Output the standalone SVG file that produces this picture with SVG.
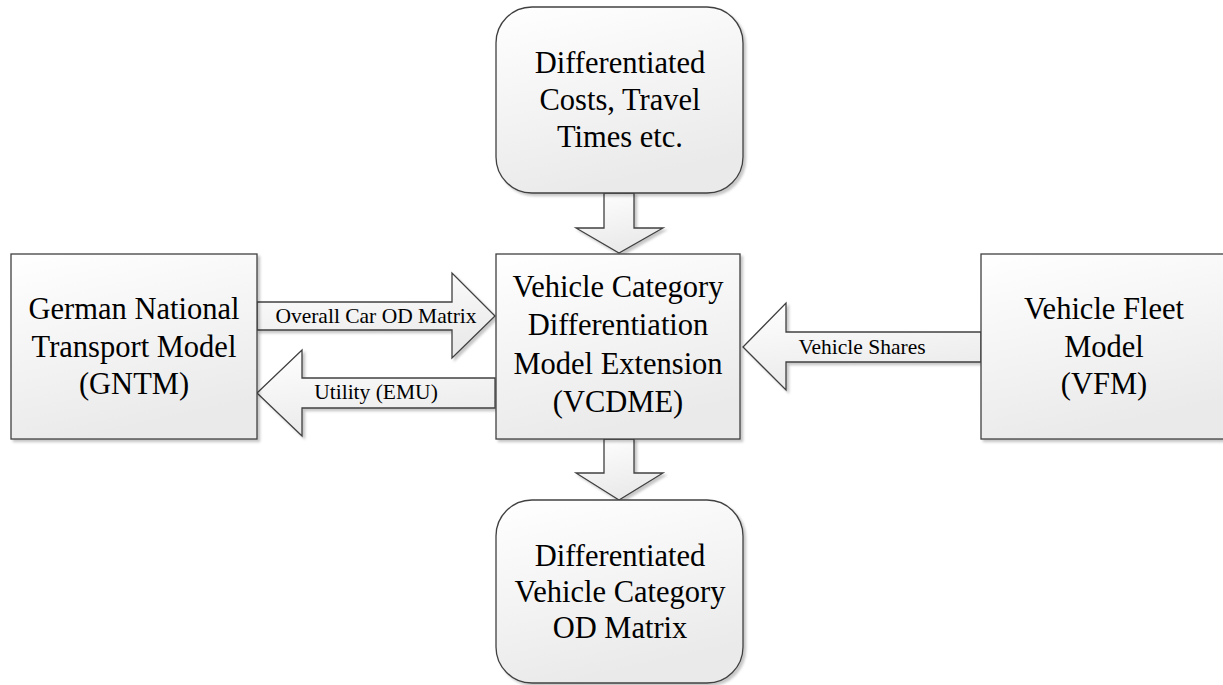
<svg xmlns="http://www.w3.org/2000/svg" width="1223" height="685" viewBox="0 0 1223 685">
<defs>
<linearGradient id="g" x1="0" y1="0" x2="0.3" y2="1">
<stop offset="0" stop-color="#ffffff"/>
<stop offset="1" stop-color="#eaeaea"/>
</linearGradient>
<filter id="sh" x="-10%" y="-10%" width="130%" height="130%">
<feDropShadow dx="2.5" dy="2.5" stdDeviation="1" flood-color="#000" flood-opacity="0.22"/>
</filter>
<style>
.box{fill:url(#g);stroke:#404040;stroke-width:1.3;filter:url(#sh)}
.arr{fill:url(#g);stroke:#404040;stroke-width:1.3;filter:url(#sh)}
.big{font-family:"Liberation Serif","Times New Roman",serif;font-size:30.5px;fill:#000;text-anchor:middle}
.small{font-family:"Liberation Serif","Times New Roman",serif;font-size:21.5px;fill:#000;text-anchor:middle}
</style>
</defs>
<rect width="1223" height="685" fill="#fff"/>

<g id="connectors">
<g id="arrow-top">
<polygon class="arr" points="604,193 634,193 634,228 663,228 619,253 576,228 604,228"/>
</g>
<g id="arrow-bottom">
<polygon class="arr" points="604,439 634,439 634,473 663,473 619,500 576,473 604,473"/>
</g>
<g id="arrow-overall">
<polygon class="arr" points="257,302 452,302 452,273 495,316 452,358 452,330 257,330"/>
<text class="small" x="376" y="323">Overall Car OD Matrix</text>
</g>
<g id="arrow-utility">
<polygon class="arr" points="495,378 302,378 302,350 257,393 302,436 302,408 495,408"/>
<text class="small" x="376" y="399">Utility (EMU)</text>
</g>
<g id="arrow-shares">
<polygon class="arr" points="981,332 786,332 786,303 743,347 786,390 786,362 981,362"/>
<text class="small" x="862" y="354">Vehicle Shares</text>
</g>
</g>

<g id="node-costs">
<rect class="box" x="496" y="7" width="247" height="186" rx="36" ry="36"/>
<text class="big" x="620" y="73">Differentiated</text>
<text class="big" x="620" y="110">Costs, Travel</text>
<text class="big" x="620" y="147">Times etc.</text>
</g>

<g id="node-gntm">
<rect class="box" x="11" y="254" width="246" height="185"/>
<text class="big" x="134" y="319">German National</text>
<text class="big" x="134" y="357">Transport Model</text>
<text class="big" x="134" y="394">(GNTM)</text>
</g>

<g id="node-vcdme">
<rect class="box" x="496" y="254" width="244" height="185"/>
<text class="big" x="618" y="297">Vehicle Category</text>
<text class="big" x="618" y="335">Differentiation</text>
<text class="big" x="618" y="374">Model Extension</text>
<text class="big" x="618" y="412">(VCDME)</text>
</g>

<g id="node-vfm">
<rect class="box" x="981" y="254" width="244" height="185"/>
<text class="big" x="1104" y="319">Vehicle Fleet</text>
<text class="big" x="1104" y="357">Model</text>
<text class="big" x="1104" y="394">(VFM)</text>
</g>

<g id="node-output">
<rect class="box" x="496" y="500" width="247" height="183" rx="36" ry="36"/>
<text class="big" x="620" y="566">Differentiated</text>
<text class="big" x="620" y="602">Vehicle Category</text>
<text class="big" x="620" y="638">OD Matrix</text>
</g>
</svg>
